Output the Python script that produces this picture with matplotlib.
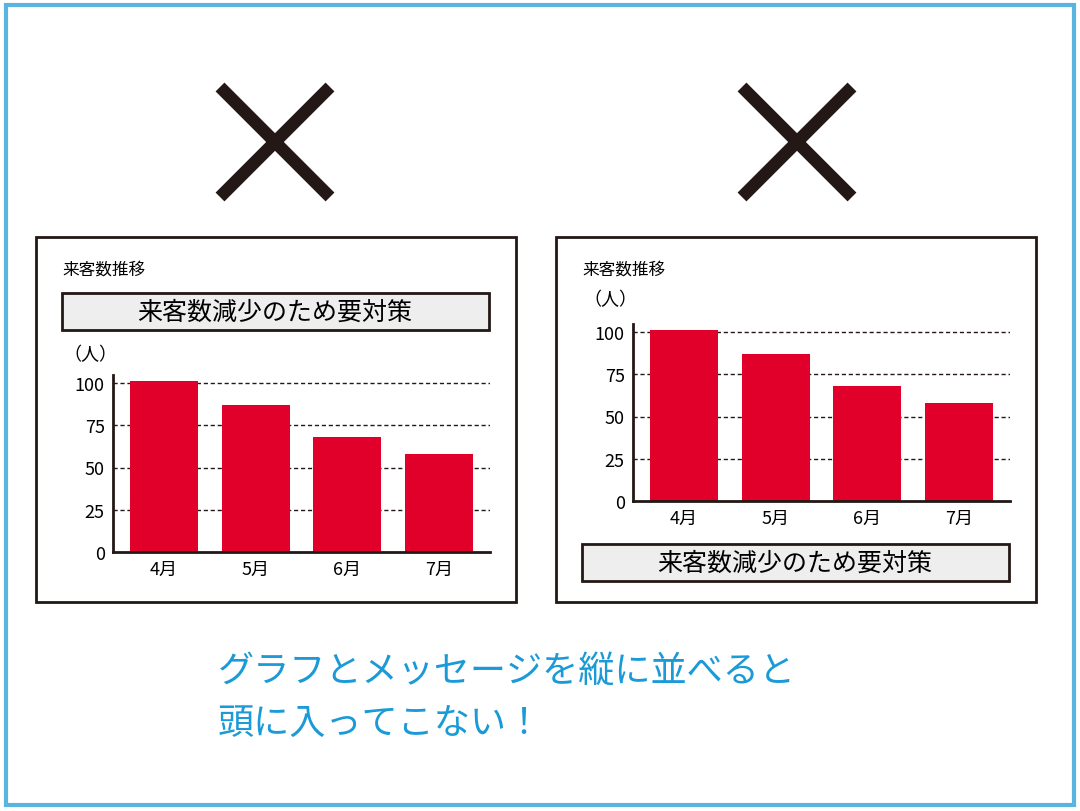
import matplotlib.pyplot as plt
from matplotlib.patches import Rectangle

plt.rcParams['font.family'] = 'Noto Sans CJK JP'

months = ['4月', '5月', '6月', '7月']
visitors = [101, 87, 68, 58]
yticks = [0, 25, 50, 75, 100]
chart_title = '来客数推移'
message = '来客数減少のため要対策'
unit = '（人）'
caption = ['グラフとメッセージを縦に並べると', '頭に入ってこない！']

W, H = 1080, 812
fig = plt.figure(figsize=(W / 100, H / 100), dpi=100)

# overlay in pixel coordinates for frames / crosses / texts
bg = fig.add_axes([0, 0, 1, 1])
bg.set_xlim(0, W)
bg.set_ylim(H, 0)
bg.axis('off')
bg.add_patch(Rectangle((6, 6), W - 12, H - 12, fill=False, ec='#5ab4e0', lw=3))


def cross(cx, cy, s=55):
    bg.plot([cx - s, cx + s], [cy - s, cy + s], color='#231815', lw=9, solid_capstyle='butt')
    bg.plot([cx - s, cx + s], [cy + s, cy - s], color='#231815', lw=9, solid_capstyle='butt')


def msg_box(x0, y0):
    bg.add_patch(Rectangle((x0, y0), 427, 37, fc='#eeeeee', ec='#231815', lw=2))
    bg.text(x0 + 213, y0 + 19, message, fontsize=18, ha='center', va='center')


def chart(ax_left, ax_zero, box_x, msg_y, unit_y):
    bg.add_patch(Rectangle((box_x, 238), 480, 365, fill=False, ec='#231815', lw=2))
    bg.text(box_x + 26, 270, chart_title, fontsize=12, va='center')
    msg_box(box_x + 26, msg_y)
    bg.text(box_x + 27, unit_y, unit, fontsize=13, va='center')
    hpx = 169 * 1.05
    ax = fig.add_axes([ax_left / W, (H - ax_zero) / H, 377 / W, hpx / H])
    ax.set_zorder(2)
    ax.patch.set_alpha(0)
    for v in yticks[1:]:
        ax.axhline(v, color='#231815', ls=(0, (3, 2)), lw=1, zorder=0)
    ax.bar(range(len(months)), visitors, width=0.74, color='#e0002a', zorder=2)
    ax.set_xlim(-0.55, 3.55)
    ax.set_ylim(0, 105)
    ax.set_yticks(yticks)
    ax.set_xticks(range(len(months)), months)
    ax.tick_params(length=0, labelsize=13, pad=6)
    for s in ['top', 'right']:
        ax.spines[s].set_visible(False)
    for s in ['left', 'bottom']:
        ax.spines[s].set_linewidth(2)
        ax.spines[s].set_color('#231815')


cross(275, 143)
cross(797, 143)
chart(113, 553, 36, 294, 355)
chart(633, 502, 556, 545, 300)

bg.text(218, 672, caption[0], fontsize=26, color='#1a9ad6', va='center', style='italic')
bg.text(218, 725, caption[1], fontsize=26, color='#1a9ad6', va='center', style='italic')

fig.savefig('out.png', dpi=100)
